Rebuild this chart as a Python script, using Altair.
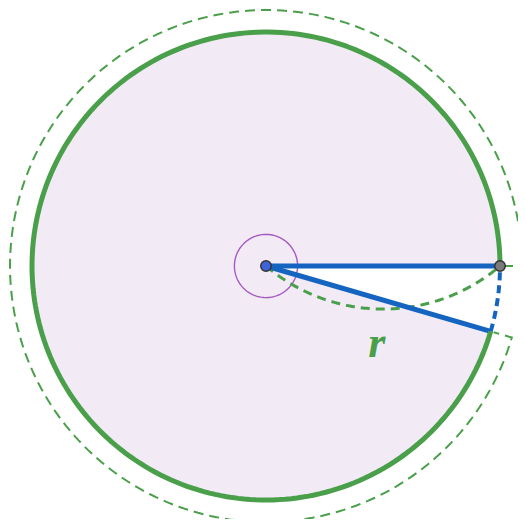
import numpy as np
import pandas as pd
import altair as alt

# geometry (units: circle radius r = 1)
R = 1.0
ARC_END = 6.0            # six radii wrapped around the circle (radians)
OUTER_R = 1.094          # dashed outer measuring arc
TICK_R = 1.013           # inner end of the end ticks
MARK_R = 0.135           # small angle marker around centre
INNER_SAG = 0.184        # sag of the bent radius arc
LABEL = "r"
LABEL_POS = (0.474, -0.335)

X_DOMAIN = [-1.1026, 1.0769]
Y_DOMAIN = [-1.0812, 1.1026]

GREEN = "#4a9f4a"
BLUE = "#1565c0"
FILL = "#f2ebf6"
PURPLE = "#a858c2"

N = 240


def arc(r, a0, a1, n=N, cx=0.0, cy=0.0):
    t = np.linspace(a0, a1, n)
    return cx + r * np.cos(t), cy + r * np.sin(t)


# filled sector (centre + arc 0..6 rad)
ax_, ay_ = arc(R, 0, ARC_END)
sector = pd.DataFrame({"x": np.r_[0, ax_, 0], "y": np.r_[0, ay_, 0]})
sector["o"] = range(len(sector))

# green solid circle arc
gx, gy = arc(R, 0, ARC_END)
green_arc = pd.DataFrame({"x": gx, "y": gy, "o": range(N)})

# blue dashed arc (the leftover)
bx, by = arc(R, ARC_END, 2 * np.pi, 40)
blue_arc = pd.DataFrame({"x": bx, "y": by, "o": range(40)})

# outer dashed arc with end ticks
ox, oy = arc(OUTER_R, 0, ARC_END)
ox = np.r_[TICK_R, ox, TICK_R * np.cos(ARC_END)]
oy = np.r_[0, oy, TICK_R * np.sin(ARC_END)]
outer = pd.DataFrame({"x": ox, "y": oy, "o": range(len(ox))})

# inner bent radius (circle arc through centre and P)
half = 0.5
rho = (half ** 2 + INNER_SAG ** 2) / (2 * INNER_SAG)
icx, icy = 0.5, -INNER_SAG + rho
a_start = np.arctan2(0 - icy, 0 - icx)
a_end = np.arctan2(0 - icy, 1 - icx)
if a_start > a_end:
    a_start -= 2 * np.pi
ix, iy = arc(rho, a_start, a_end, 120, icx, icy)
inner = pd.DataFrame({"x": ix, "y": iy, "o": range(len(ix))})

# radii (blue)
radii = pd.DataFrame({
    "x": [0, R, 0, R * np.cos(ARC_END)],
    "y": [0, 0, 0, R * np.sin(ARC_END)],
    "seg": ["a", "a", "b", "b"],
    "o": [0, 1, 0, 1],
})

# angle marker
mx, my = arc(MARK_R, 0, 2 * np.pi, 120)
marker = pd.DataFrame({"x": mx, "y": my, "o": range(120)})

pts = pd.DataFrame({"x": [0, R], "y": [0, 0], "c": ["#3f63d8", "#7a7a7a"]})
lab = pd.DataFrame({"x": [LABEL_POS[0]], "y": [LABEL_POS[1]], "t": [LABEL]})

X = alt.X("x:Q", scale=alt.Scale(domain=X_DOMAIN, nice=False, zero=False), axis=None)
Y = alt.Y("y:Q", scale=alt.Scale(domain=Y_DOMAIN, nice=False, zero=False), axis=None)
O = alt.Order("o:Q")

l_fill = alt.Chart(sector).mark_line(fill=FILL, strokeOpacity=0, strokeWidth=0).encode(X, Y, O)
l_marker = alt.Chart(marker).mark_line(color=PURPLE, strokeWidth=1.4).encode(X, Y, O)
l_inner = alt.Chart(inner).mark_line(color=GREEN, strokeWidth=3, strokeDash=[9, 6]).encode(X, Y, O)
l_radii = alt.Chart(radii).mark_line(color=BLUE, strokeWidth=5).encode(X, Y, O, detail="seg:N")
l_green = alt.Chart(green_arc).mark_line(color=GREEN, strokeWidth=5).encode(X, Y, O)
l_blue = alt.Chart(blue_arc).mark_line(color=BLUE, strokeWidth=4, strokeDash=[8, 5]).encode(X, Y, O)
l_outer = alt.Chart(outer).mark_line(color=GREEN, strokeWidth=2, strokeDash=[10, 6]).encode(X, Y, O)
l_pts = alt.Chart(pts).mark_point(filled=True, size=110, stroke="#333333", strokeWidth=1.5, opacity=1).encode(
    X, Y, fill=alt.Fill("c:N", scale=None))
l_text = alt.Chart(lab).mark_text(font="Liberation Serif", fontStyle="italic", fontWeight="bold", fontSize=44,
                                  color=GREEN, baseline="middle", align="center").encode(X, Y, text="t:N")

chart = alt.layer(l_fill, l_marker, l_inner, l_radii, l_green, l_blue, l_outer, l_pts, l_text).properties(
    width=510, height=511, padding=0, autosize=alt.AutoSizeParams(type="none")
).configure_view(stroke=None)

chart.save("out.html", embed_options={"renderer": "svg", "actions": False})
